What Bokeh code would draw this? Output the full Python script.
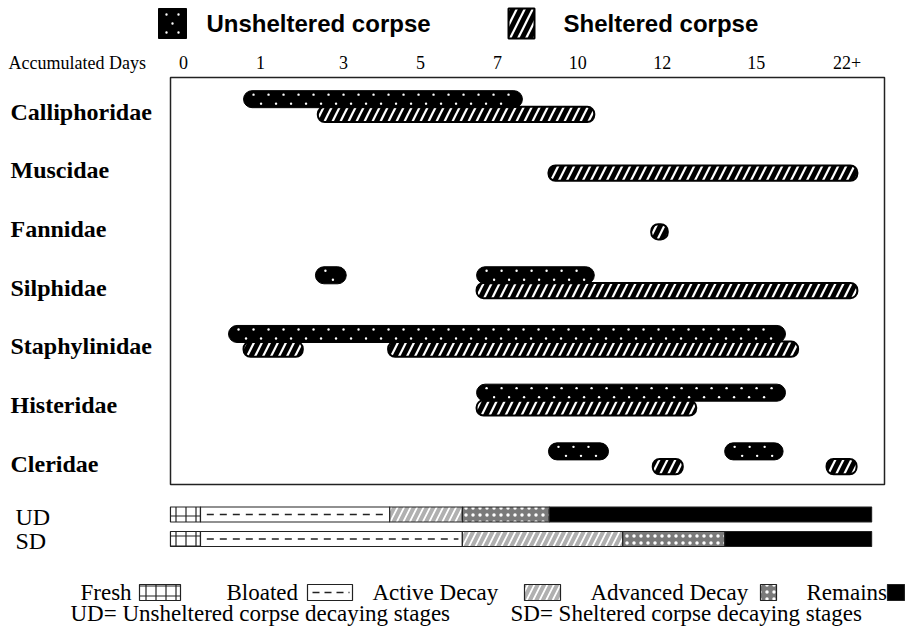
import numpy as np
from bokeh.plotting import figure
from bokeh.models import Range1d, ColumnDataSource
from bokeh.core.properties import value
from bokeh.embed import file_html
from bokeh.resources import INLINE

# ---------------- data ----------------
families = ["Calliphoridae", "Muscidae", "Fannidae", "Silphidae",
            "Staphylinidae", "Histeridae", "Cleridae"]
tick_labels = ["0", "1", "3", "5", "7", "10", "12", "15", "22+"]
tick_pos = [0.0, 0.975, 2.025, 3.0, 3.975, 4.99, 6.06, 7.25, 8.4]

# unsheltered corpse occurrences (axis units)
uns_family = ["Calliphoridae", "Silphidae", "Silphidae", "Staphylinidae",
              "Histeridae", "Cleridae", "Cleridae"]
uns_start = [0.76, 1.67, 3.71, 0.57, 3.71, 4.62, 6.85]
uns_end = [4.29, 2.06, 5.20, 7.62, 7.62, 5.38, 7.59]

# sheltered corpse occurrences (axis units)
she_family = ["Calliphoridae", "Muscidae", "Fannidae", "Silphidae",
              "Staphylinidae", "Staphylinidae", "Histeridae", "Cleridae", "Cleridae"]
she_start = [1.70, 4.62, 5.92, 3.71, 0.76, 2.59, 3.71, 5.94, 8.14]
she_end = [5.20, 8.53, 6.13, 8.53, 1.51, 7.78, 6.49, 6.32, 8.52]

# decay stages
stages = ["Fresh", "Bloated", "Active Decay", "Advanced Decay", "Remains"]
ud_bounds = [-0.165, 0.215, 2.61, 3.53, 4.63, 8.71]
sd_bounds = [-0.165, 0.215, 3.53, 5.56, 6.85, 8.71]

# ---------------- layout helpers ----------------
W, H = 905, 626
X0, XS = 183.0, 79.0     # px of tick "0", px per axis unit
Y0, YS = 111.0, 58.7     # px of first row, px per row


def ux(px):
    return (px - X0) / XS


def ry(py):
    return (py - Y0) / YS


SERIF = value("Liberation Serif")
SANS = value("Liberation Sans")

p = figure(width=W, height=H, output_backend="svg", toolbar_location=None,
           x_range=Range1d(ux(0), ux(W)), y_range=Range1d(ry(H), ry(0)),
           min_border=0, x_axis_location=None, y_axis_location=None,
           outline_line_color=None)
p.grid.visible = False
p.background_fill_color = "white"
p.border_fill_color = "white"

row_of = {f: i for i, f in enumerate(families)}

UNS_STYLE = dict(fill_color="black", line_color="black", line_width=1)
SHE_STYLE = dict(fill_color="white", line_color="black", line_width=2,
                 hatch_pattern="/", hatch_color="black", hatch_scale=16, hatch_weight=5)


def dots_for(left, right, yc):
    """white speckle positions inside a black (unsheltered) bar"""
    xs, ys = [], []
    step = 15 / XS
    off = 4.5 / YS
    x = left + 10 / XS
    k = 0
    while x < right - 8 / XS:
        xs.append(x)
        ys.append(yc - off if k % 2 == 0 else yc + off)
        x += step / 2
        k += 1
    return xs, ys


# plot frame box
p.quad(left=[ux(170)], right=[ux(884)], top=[ry(77)], bottom=[ry(484)],
       fill_color=None, line_color="#222222", line_width=1.5)

# sheltered bars (drawn first, unsheltered on top)
she_src = ColumnDataSource(dict(y=[row_of[f] + 0.05 for f in she_family],
                                left=she_start, right=she_end))
p.hbar(y="y", left="left", right="right", height=0.26, source=she_src,
       border_radius=7, **SHE_STYLE)

uns_y = [row_of[f] - 0.21 for f in uns_family]
uns_src = ColumnDataSource(dict(y=uns_y, left=uns_start, right=uns_end))
p.hbar(y="y", left="left", right="right", height=0.29, source=uns_src,
       border_radius=9, **UNS_STYLE)
dx, dy = [], []
for l, r, yc in zip(uns_start, uns_end, uns_y):
    a, b = dots_for(l, r, yc)
    dx += a
    dy += b
p.scatter(x=dx, y=dy, size=2.4, marker="circle", fill_color="white", line_color=None)

# family labels
p.text(x=[ux(10)] * len(families), y=list(range(len(families))), text=families,
       text_font=SERIF, text_font_style="bold", text_font_size="24px",
       text_baseline="middle", text_align="left", text_color="black")

# tick labels
p.text(x=tick_pos, y=[ry(62)] * len(tick_pos), text=tick_labels,
       text_font=SERIF, text_font_size="18px", text_baseline="middle",
       text_align="center", text_color="black")
p.text(x=[ux(8)], y=[ry(62)], text=["Accumulated Days"], text_font=SERIF,
       text_font_size="18px", text_baseline="middle", text_align="left",
       text_color="black")

# top legend
p.hbar(y=[ry(23)], left=[ux(158)], right=[ux(186)], height=30 / YS, **UNS_STYLE)
p.scatter(x=[ux(166), ux(178), ux(166), ux(178), ux(172)],
          y=[ry(14), ry(14), ry(32), ry(32), ry(23)], size=2.4, marker="circle",
          fill_color="white", line_color=None)
p.text(x=[ux(206)], y=[ry(23)], text=["Unsheltered corpse"], text_font=SANS,
       text_font_style="bold", text_font_size="24px", text_baseline="middle",
       text_align="left", text_color="black")
p.hbar(y=[ry(23)], left=[ux(508)], right=[ux(534)], height=30 / YS, **SHE_STYLE)
p.text(x=[ux(563)], y=[ry(23)], text=["Sheltered corpse"], text_font=SANS,
       text_font_style="bold", text_font_size="24px", text_baseline="middle",
       text_align="left", text_color="black")

# decay stage styles
STAGE_STYLE = {
    "Fresh": dict(fill_color="white", hatch_pattern="+", hatch_color="#222222",
                  hatch_scale=10, hatch_weight=1.2),
    "Bloated": dict(fill_color="white"),
    "Active Decay": dict(fill_color="white", hatch_pattern="/", hatch_color="#b0b0b0",
                         hatch_scale=13, hatch_weight=4),
    "Advanced Decay": dict(fill_color="#7a7a7a", hatch_pattern=".", hatch_color="white",
                           hatch_scale=7, hatch_weight=2),
    "Remains": dict(fill_color="black"),
}

bar_h = 15 / YS
for lab, bounds, py in (("UD", ud_bounds, 514), ("SD", sd_bounds, 538.5)):
    yy = ry(py)
    for i, st in enumerate(stages):
        p.hbar(y=[yy], left=[bounds[i]], right=[bounds[i + 1]], height=bar_h,
               line_color="#222222", line_width=1.2, **STAGE_STYLE[st])
        if st == "Bloated":
            p.segment(x0=[bounds[i] + 0.08], x1=[bounds[i + 1] - 0.05], y0=[yy], y1=[yy],
                      line_color="#222222", line_width=1.5, line_dash="7 6")
    p.text(x=[ux(15)], y=[yy + 2 / YS], text=[lab], text_font=SERIF,
           text_font_size="24px", text_baseline="middle", text_align="left",
           text_color="black")

# bottom legend
leg_y = ry(592)
leg_items = [("Fresh", 80, 139, 180), ("Bloated", 226, 307, 352),
             ("Active Decay", 372, 524, 560), ("Advanced Decay", 590, 760, 776),
             ("Remains", 806, 887, 904)]
sw_h = 16 / YS
for st, tx, s0, s1 in leg_items:
    p.text(x=[ux(tx)], y=[leg_y], text=[st], text_font=SERIF, text_font_size="23px",
           text_baseline="middle", text_align="left", text_color="black")
    p.hbar(y=[leg_y], left=[ux(s0)], right=[ux(s1)], height=sw_h,
           line_color="#222222", line_width=1.2, **STAGE_STYLE[st])
    if st == "Bloated":
        p.segment(x0=[ux(s0 + 5)], x1=[ux(s1 - 3)], y0=[leg_y], y1=[leg_y],
                  line_color="#222222", line_width=1.5, line_dash="7 5")

p.text(x=[ux(70)], y=[ry(613)], text=["UD= Unsheltered corpse decaying stages"],
       text_font=SERIF, text_font_size="23px", text_baseline="middle",
       text_align="left", text_color="black")
p.text(x=[ux(510)], y=[ry(613)], text=["SD= Sheltered corpse decaying stages"],
       text_font=SERIF, text_font_size="23px", text_baseline="middle",
       text_align="left", text_color="black")

open("out.html", "w").write(file_html(p, INLINE))
